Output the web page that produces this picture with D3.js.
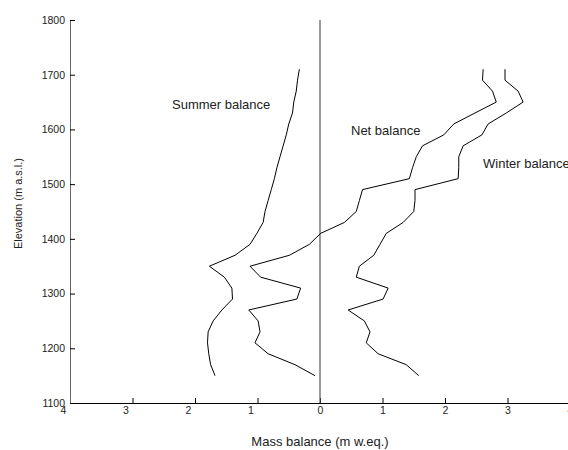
<!DOCTYPE html>
<html>
<head>
<meta charset="utf-8">
<script src="https://cdn.jsdelivr.net/npm/d3@7"></script>
<style>
	body { margin: 0; background: #fff; }
	svg { display: block; font-family: "Liberation Sans", Arial, sans-serif; }
</style>
</head>
<body>
<div id="visHolder"></div>
<script>
// elevation bands (m a.s.l.), bottom to top
const elevations = [
	1150, 1170, 1190, 1210, 1230, 1250, 1270, 1290, 1310, 1330,
	1350, 1370, 1390, 1410, 1430, 1450, 1470, 1490, 1510, 1530,
	1550, 1570, 1590, 1610, 1630, 1650, 1670, 1690, 1710,
];

// mass balance (m w.eq.) per band
const summerBalance = [
	-1.68, -1.75, -1.78, -1.8, -1.79, -1.71, -1.57, -1.4, -1.41, -1.53,
	-1.77, -1.36, -1.12, -1.01, -0.91, -0.88, -0.83, -0.78, -0.73, -0.69,
	-0.64, -0.59, -0.54, -0.5, -0.44, -0.42, -0.38, -0.36, -0.33,
];
const winterBalance = [
	1.58, 1.38, 0.93, 0.74, 0.8, 0.71, 0.45, 1.01, 1.09, 0.58,
	0.63, 0.86, 0.96, 1.06, 1.33, 1.5, 1.52, 1.52, 2.21, 2.22,
	2.22, 2.29, 2.59, 2.69, 2.98, 3.25, 3.17, 2.96, 2.96,
];
const netBalance = [
	-0.08, -0.4, -0.83, -1.04, -0.96, -0.99, -1.14, -0.37, -0.31, -0.95,
	-1.12, -0.49, -0.17, 0.01, 0.39, 0.58, 0.63, 0.68, 1.43, 1.48,
	1.54, 1.64, 1.98, 2.14, 2.48, 2.82, 2.76, 2.6, 2.61,
];

const xTicks = [-4, -3, -2, -1, 0, 1, 2, 3, 4];
const yTicks = [1100, 1200, 1300, 1400, 1500, 1600, 1700, 1800];

const seriesLabels = [
	{ text: "Summer balance", x: 172, y: 109 },
	{ text: "Net balance", x: 351, y: 135 },
	{ text: "Winter balance", x: 483, y: 168 },
];

const width = 568;
const height = 450;
const plot = { left: 70, right: 570, top: 20, bottom: 403 };

const svg = d3
	.select("#visHolder")
	.append("svg")
	.attr("width", width)
	.attr("height", height);

const x = d3.scaleLinear().domain([-4, 4]).range([plot.left, plot.right]);
const y = d3.scaleLinear().domain([1100, 1800]).range([plot.bottom, plot.top]);

createAxes();
createZeroLine();
createProfiles();
createLabels();

function createAxes() {
	const xAxis = svg
		.append("g")
		.attr("transform", `translate(0,${plot.bottom})`)
		.call(
			d3
				.axisBottom(x)
				.tickValues(xTicks)
				.tickSize(-5)
				.tickSizeOuter(0)
				.tickPadding(4)
				.tickFormat((d) => Math.abs(d))
		);
	xAxis.select(".domain").attr("stroke", "#000");
	xAxis
		.selectAll(".tick text")
		.attr("font-size", 10.5)
		.attr("font-family", null)
		.attr("fill", "#222")
		.attr("dx", (d) => (d < 0 ? -7 : 0));

	const yAxis = svg
		.append("g")
		.attr("transform", `translate(${plot.left},0)`)
		.call(
			d3
				.axisLeft(y)
				.tickValues(yTicks)
				.tickSize(-5)
				.tickSizeOuter(0)
				.tickPadding(5)
				.tickFormat(d3.format("d"))
		);
	yAxis.select(".domain").attr("stroke", "#666");
	yAxis
		.selectAll(".tick text")
		.attr("font-size", 10.5)
		.attr("font-family", null)
		.attr("fill", "#222");

	svg
		.append("text")
		.text("Mass balance (m w.eq.)")
		.attr("x", x(0))
		.attr("y", 446)
		.attr("text-anchor", "middle")
		.attr("font-size", 13)
		.attr("fill", "#222");

	svg
		.append("text")
		.text("Elevation (m a.s.l.)")
		.attr("transform", `translate(22,${(plot.top + plot.bottom) / 2 - 8}) rotate(-90)`)
		.attr("text-anchor", "middle")
		.attr("font-size", 11)
		.attr("fill", "#222");
}

function createZeroLine() {
	svg
		.append("line")
		.attr("x1", x(0))
		.attr("x2", x(0))
		.attr("y1", y(1800))
		.attr("y2", y(1100))
		.attr("stroke", "#555")
		.attr("stroke-width", 1.2);
}

function createProfiles() {
	const line = d3
		.line()
		.x((d) => x(d[0]))
		.y((d) => y(d[1]));

	[summerBalance, netBalance, winterBalance].forEach((values) => {
		svg
			.append("path")
			.attr("fill", "none")
			.attr("stroke", "#000")
			.attr("stroke-width", 1)
			.attr("stroke-linejoin", "round")
			.attr("d", line(values.map((v, i) => [v, elevations[i]])));
	});
}

function createLabels() {
	svg
		.selectAll(".seriesLabel")
		.data(seriesLabels)
		.join("text")
		.attr("class", "seriesLabel")
		.text((d) => d.text)
		.attr("x", (d) => d.x)
		.attr("y", (d) => d.y)
		.attr("font-size", 13)
		.attr("fill", "#222");
}
</script>
</body>
</html>
